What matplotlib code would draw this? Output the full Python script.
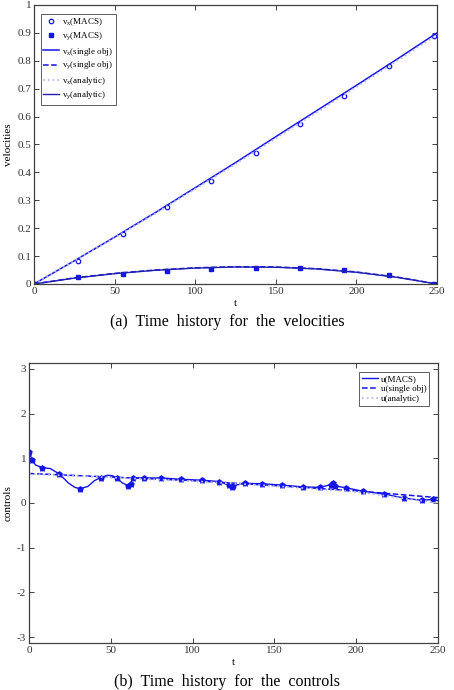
import matplotlib
matplotlib.use("Agg")
import matplotlib.pyplot as plt

plt.rcParams['font.family'] = ['Liberation Serif', 'DejaVu Serif']
plt.rcParams['mathtext.fontset'] = 'custom'
plt.rcParams['mathtext.rm'] = 'Liberation Serif'

# ---- data: velocities ----
t_macs = [0, 27.5, 55, 82.5, 110, 137.5, 165, 192.5, 220, 248]
vx_macs = [0.0, 0.083, 0.18, 0.275, 0.37, 0.47, 0.572, 0.675, 0.78, 0.89]
vy_macs = [0.0, 0.025, 0.035, 0.045, 0.055, 0.058, 0.057, 0.05, 0.033, 0.0]

t_line = [0, 25, 50, 75, 100, 125, 150, 175, 200, 225, 250]
vx_single = [0.0, 0.083, 0.168, 0.255, 0.345, 0.435, 0.528, 0.62, 0.712, 0.805, 0.9]
vy_single = [0.0, 0.022, 0.038, 0.05, 0.058, 0.062, 0.061, 0.055, 0.043, 0.025, 0.0]
vx_analytic = [0.0, 0.082, 0.166, 0.252, 0.341, 0.43, 0.522, 0.614, 0.706, 0.799, 0.893]
vy_analytic = [0.0, 0.021, 0.037, 0.049, 0.057, 0.061, 0.06, 0.054, 0.042, 0.024, 0.0]

# ---- data: controls ----
u_pts_t = [0.2, 1.8, 8.2, 18.5, 31.2, 43.8, 54, 60.5, 62.1, 63.4, 70.1, 80.5, 93.1,
           105.5, 116.1, 122.2, 124, 124.9, 132.2, 142.6, 154.8, 167.3, 177.9, 184.4,
           185.6, 187, 193.8, 204.4, 217.2, 229.2, 240, 246.8]
u_pts = [1.15, 0.96, 0.79, 0.65, 0.32, 0.57, 0.55, 0.39, 0.43, 0.56, 0.56, 0.56, 0.53,
         0.51, 0.48, 0.40, 0.35, 0.39, 0.44, 0.43, 0.40, 0.36, 0.35, 0.41,
         0.44, 0.38, 0.34, 0.26, 0.20, 0.11, 0.06, 0.08]
u_curve_t = [0.2, 1.8, 4, 8.2, 13, 18.5, 24, 28, 31.2, 36, 40, 43.8, 48, 51, 54, 57,
             60.5, 62.1, 63.4, 70.1, 80.5, 93.1, 105.5, 116.1, 122.2, 124, 124.9, 132.2,
             142.6, 154.8, 167.3, 177.9, 184.4, 185.6, 187, 193.8, 204.4, 217.2, 229.2,
             240, 246.8, 250]
u_curve = [1.15, 0.96, 0.85, 0.79, 0.77, 0.65, 0.45, 0.35, 0.32, 0.37, 0.5, 0.57, 0.62,
           0.61, 0.55, 0.45, 0.39, 0.43, 0.56, 0.56, 0.56, 0.53, 0.51, 0.48, 0.40, 0.35,
           0.39, 0.44, 0.43, 0.40, 0.36, 0.35, 0.41, 0.44, 0.38, 0.34, 0.26, 0.20, 0.11,
           0.06, 0.08, 0.05]
u_single_t = [0, 50, 100, 150, 200, 250]
u_single = [0.66, 0.58, 0.5, 0.39, 0.27, 0.12]
u_analytic = [0.65, 0.57, 0.49, 0.38, 0.25, 0.0]

blue = '#1414e6'
light = '#b8b8f0'

fig = plt.figure(figsize=(4.54, 6.9), dpi=100)

def style(ax):
    for s in ax.spines.values():
        s.set_color('#404040')
        s.set_linewidth(0.9)
    ax.tick_params(direction='in', top=True, right=True, length=3.5, width=0.7,
                   labelsize=8, colors='#404040', labelcolor='#333333', pad=2)

# ---- top axes ----
ax1 = fig.add_axes([34/454, 1-284/690, 403/454, 279/690])
ax1.plot(t_macs, vx_macs, 'o', mfc='none', mec=blue, ms=3.2, mew=0.9, label='v$_\\mathregular{x}$(MACS)')
ax1.plot(t_macs, vy_macs, 's', color=blue, ms=2.8, label='v$_\\mathregular{y}$(MACS)')
ax1.plot(t_line, vx_single, '-', color=blue, lw=1.1, label='v$_\\mathregular{x}$(single obj)')
ax1.plot(t_line, vy_single, '--', color=blue, lw=1.1, label='v$_\\mathregular{y}$(single obj)')
ax1.plot(t_line, vx_analytic, ':', color=light, lw=1.3, label='v$_\\mathregular{x}$(analytic)')
ax1.plot(t_line, vy_analytic, '-', color='#2020b0', lw=1.0, label='v$_\\mathregular{y}$(analytic)')
ax1.set_xlim(0, 250)
ax1.set_ylim(0, 1)
ax1.set_xticks([0, 50, 100, 150, 200, 250])
ax1.set_yticks([0, 0.1, 0.2, 0.3, 0.4, 0.5, 0.6, 0.7, 0.8, 0.9, 1])
ax1.set_yticklabels(['0', '0.1', '0.2', '0.3', '0.4', '0.5', '0.6', '0.7', '0.8', '0.9', '1'])
ax1.set_xlabel('t', fontsize=8, labelpad=2)
ax1.set_ylabel('velocities', fontsize=8, labelpad=3)
style(ax1)
leg1 = ax1.legend(loc='upper left', fontsize=6.5, frameon=True, fancybox=False,
                  edgecolor='#333333', handlelength=1.8, handletextpad=0.3,
                  borderpad=0.3, labelspacing=0.3, bbox_to_anchor=(0.005, 0.985))
leg1.get_frame().set_linewidth(0.7)

fig.text(0.5, 1-322/690, '(a)  Time  history  for  the  velocities', ha='center', va='center', fontsize=11.5)

# ---- bottom axes ----
ax2 = fig.add_axes([29/454, 1-643/690, 409/454, 280/690])
ax2.plot(u_curve_t, u_curve, '-', color=blue, lw=1.0, label='u(MACS)')
ax2.plot(u_pts_t, u_pts, 'o', color=blue, ms=3.2)
ax2.plot(u_pts_t, u_pts, '*', color=blue, ms=5, mew=0.5)
ax2.plot(u_single_t, u_single, '--', color=blue, lw=1.1, label='u(single obj)')
ax2.plot(u_single_t, u_analytic, ':', color=light, lw=1.3, label='u(analytic)')
ax2.set_xlim(0, 250)
ax2.set_ylim(-3.13, 3.13)
ax2.set_xticks([0, 50, 100, 150, 200, 250])
ax2.set_yticks([-3, -2, -1, 0, 1, 2, 3])
ax2.set_yticklabels(['-3', '-2', '-1', '0', '1', '2', '3'])
ax2.set_xlabel('t', fontsize=8, labelpad=2)
ax2.set_ylabel('controls', fontsize=8, labelpad=3)
style(ax2)
leg2 = ax2.legend(loc='upper right', fontsize=6.5, frameon=True, fancybox=False,
                  edgecolor='#333333', handlelength=1.8, handletextpad=0.3,
                  borderpad=0.3, labelspacing=0.2, bbox_to_anchor=(0.99, 0.985))
leg2.get_frame().set_linewidth(0.7)

fig.text(0.5, 1-682/690, '(b)  Time  history  for  the  controls', ha='center', va='center', fontsize=11.5)

fig.savefig('out.png', dpi=100)
